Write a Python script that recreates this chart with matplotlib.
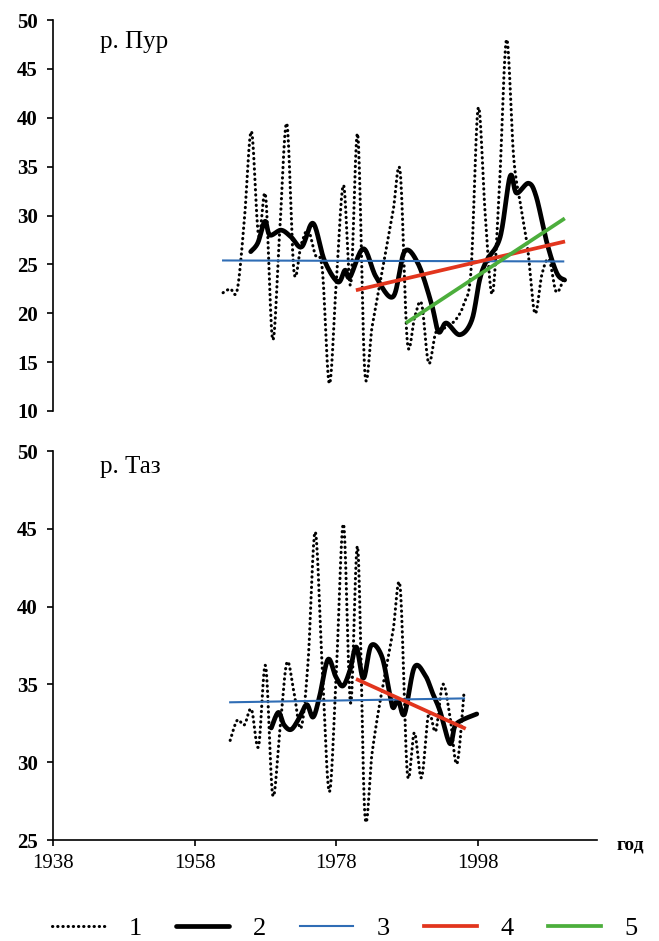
import numpy as np
import matplotlib
matplotlib.use("Agg")
import matplotlib.pyplot as plt
from matplotlib.lines import Line2D

plt.rcParams['font.family'] = ['Liberation Serif', 'DejaVu Serif']

# --- data ---
# р. Пур : annual values (series 1)
pur_years = list(range(1962, 2011))
pur_values = [22.1, 22.5, 22.4, 29.5, 38.6, 28.0, 32.0, 17.3, 28.5, 39.4,
              24.3, 27.0, 28.5, 26.0, 24.5, 12.8, 23.5, 33.1, 22.9, 38.3,
              14.0, 18.5, 22.5, 26.5, 30.5, 34.4, 17.1, 19.5, 21.0, 14.9,
              18.0, 18.4, 18.8, 19.5, 21.0, 24.5, 41.0, 30.0, 22.0, 33.0,
              48.0, 36.0, 31.0, 26.5, 20.0, 24.0, 25.5, 22.2, 23.4]
# р. Пур : moving average (series 2)
pur_ma_x = [1965.9, 1966.9, 1967.9, 1968.6, 1970.2, 1971.6, 1973.1, 1974.7,
            1976.3, 1978.2, 1979.2, 1979.9, 1981.8, 1983.6, 1986.0, 1987.6,
            1989.5, 1991.4, 1992.4, 1993.5, 1995.4, 1997.1, 1998.2, 1999.2,
            2001.1, 2002.5, 2003.4, 2005.1, 2006.2, 2007.7, 2009.1, 2010.2]
pur_ma_y = [26.3, 27.2, 29.4, 28.0, 28.5, 27.8, 26.8, 29.2,
            25.4, 23.2, 24.4, 23.7, 26.6, 23.7, 21.7, 26.3,
            25.1, 21.0, 18.1, 19.0, 17.8, 19.3, 23.4, 25.4,
            27.8, 34.0, 32.3, 33.3, 31.9, 27.2, 24.1, 23.4]
# р. Пур : mean (3) and trends (4, 5)
pur_mean_x = [1962, 2010]
pur_mean_y = [25.4, 25.3]
pur_tr4_x = [1981, 2010]
pur_tr4_y = [22.4, 27.3]
pur_tr5_x = [1988, 2010]
pur_tr5_y = [19.1, 29.6]

# р. Таз : annual values (series 1)
taz_years = list(range(1963, 1997))
taz_values = [31.4, 32.7, 32.4, 33.4, 31.0, 36.2, 27.9, 32.0, 36.4, 34.5,
              32.2, 36.5, 44.8, 36.0, 28.1, 36.0, 45.3, 33.8, 43.8, 26.7,
              30.5, 33.5, 36.0, 38.5, 41.2, 29.3, 31.9, 29.0, 33.1, 32.0,
              35.0, 33.0, 29.9, 34.5]
# р. Таз : moving average (series 2)
taz_ma_x = [1968.8, 1969.8, 1970.6, 1971.6, 1972.7, 1973.8, 1974.7, 1975.6,
            1976.8, 1977.9, 1978.9, 1979.9, 1980.8, 1981.8, 1982.9, 1984.4,
            1985.5, 1986.0, 1986.7, 1987.6, 1989.0, 1990.5, 1991.6, 1992.6,
            1994.0, 1994.7, 1995.7, 1997.8]
taz_ma_y = [32.2, 33.2, 32.4, 32.1, 32.8, 33.7, 32.9, 34.2,
            36.6, 35.5, 34.9, 35.9, 37.4, 35.4, 37.5, 36.8,
            34.4, 33.5, 34.0, 33.1, 36.1, 35.6, 34.4, 33.3,
            31.2, 32.3, 32.7, 33.1]
taz_mean_x = [1963, 1996]
taz_mean_y = [33.85, 34.1]
taz_tr4_x = [1981, 1996]
taz_tr4_y = [35.3, 32.2]

x_ticks = [1938, 1958, 1978, 1998]
legend_labels = ['1', '2', '3', '4', '5']

BLUE = '#2f6db5'
RED = '#e2351d'
GREEN = '#4cae3c'


def smooth(x, y, n=16):
    # Excel-like smoothed line (Catmull-Rom through the points)
    p = np.column_stack([x, y]).astype(float)
    p = np.vstack([p[0], p, p[-1]])
    out = []
    t = np.linspace(0, 1, n, endpoint=False)[:, None]
    for i in range(1, len(p) - 2):
        p0, p1, p2, p3 = p[i - 1], p[i], p[i + 1], p[i + 2]
        seg = 0.5 * ((2 * p1) + (-p0 + p2) * t
                     + (2 * p0 - 5 * p1 + 4 * p2 - p3) * t ** 2
                     + (-p0 + 3 * p1 - 3 * p2 + p3) * t ** 3)
        out.append(seg)
    out.append(p[-2][None, :])
    out = np.vstack(out)
    return out[:, 0], out[:, 1]


dot_kw = dict(color='black', lw=2.2, linestyle=(0, (0.1, 1.6)),
              dash_capstyle='round')
ma_kw = dict(color='black', lw=3.4, solid_capstyle='round')
mean_kw = dict(color=BLUE, lw=1.5)
tr4_kw = dict(color=RED, lw=2.7)
tr5_kw = dict(color=GREEN, lw=2.7)

fig = plt.figure(figsize=(6.59, 9.41), dpi=100)
L = 53 / 659
W = (596.7 - 53) / 659
ax1 = fig.add_axes([L, 1 - 411 / 941, W, (411 - 20) / 941])
ax2 = fig.add_axes([L, 1 - 840 / 941, W, (840 - 451) / 941])

xlim = (1938, 1938 + (596.7 - 53.5) / 7.08)

# top panel: Pur
ax1.plot(*smooth(pur_years, pur_values), **dot_kw)
ax1.plot(*smooth(pur_ma_x, pur_ma_y), **ma_kw)
ax1.plot(pur_mean_x, pur_mean_y, **mean_kw)
ax1.plot(pur_tr4_x, pur_tr4_y, **tr4_kw)
ax1.plot(pur_tr5_x, pur_tr5_y, **tr5_kw)
ax1.set_ylim(10, 50)
ax1.set_yticks(range(10, 51, 5))
ax1.set_xlim(*xlim)
ax1.set_xticks([])
for s in ['top', 'right', 'bottom']:
    ax1.spines[s].set_visible(False)
ax1.text(0.086, 0.944, 'р. Пур', transform=ax1.transAxes, fontsize=18,
         va='center', ha='left')

# bottom panel: Taz
ax2.plot(*smooth(taz_years, taz_values), **dot_kw)
ax2.plot(*smooth(taz_ma_x, taz_ma_y), **ma_kw)
ax2.plot(taz_mean_x, taz_mean_y, **mean_kw)
ax2.plot(taz_tr4_x, taz_tr4_y, **tr4_kw)
ax2.set_ylim(25, 50)
ax2.set_yticks(range(25, 51, 5))
ax2.set_xlim(*xlim)
ax2.set_xticks(x_ticks)
for s in ['top', 'right']:
    ax2.spines[s].set_visible(False)
ax2.text(0.086, 0.959, 'р. Таз', transform=ax2.transAxes, fontsize=18,
         va='center', ha='left')
ax2.text(1.037, -0.013, 'год', transform=ax2.transAxes, fontsize=14,
         fontweight='bold', va='center', ha='left')

for ax in (ax1, ax2):
    for s in ax.spines.values():
        s.set_linewidth(1.2)
    ax.tick_params(direction='out', length=4, width=1.2, labelsize=15)
    ax.tick_params(axis='y', pad=7)
    ax.tick_params(axis='x', pad=6)
    for lab in ax.get_yticklabels():
        lab.set_fontweight('bold')

handles = [Line2D([], [], **dot_kw), Line2D([], [], **ma_kw),
           Line2D([], [], **mean_kw), Line2D([], [], **tr4_kw),
           Line2D([], [], **tr5_kw)]
fig.legend(handles, legend_labels, loc='center',
           bbox_to_anchor=(345 / 659, 1 - 928 / 941), ncol=5, frameon=False,
           handlelength=2.0, handletextpad=0.9, columnspacing=1.3,
           fontsize=19)

fig.savefig('out.png', dpi=100)
